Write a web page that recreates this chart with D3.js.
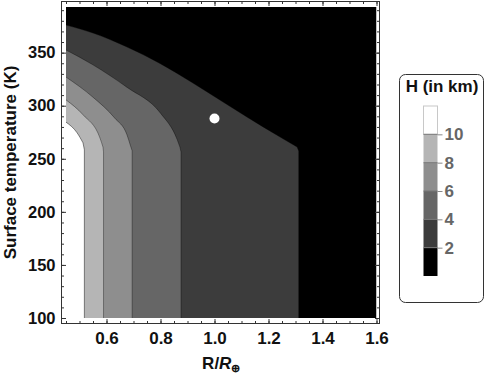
<!DOCTYPE html>
<html>
<head>
<meta charset="utf-8">
<script src="https://cdn.jsdelivr.net/npm/d3@7"></script>
<style>
  body { margin: 0; background: #fff; }
  svg { display: block; font-family: "Liberation Sans", Arial, sans-serif; font-weight: bold; }
</style>
</head>
<body>
<svg id="chart" width="485" height="378"></svg>
<script>
// contour levels (H in km) and the fill for each band
const levels = [2, 4, 6, 8, 10]
const shades = ["#000000", "#3c3c3c", "#666666", "#8e8e8e", "#b5b5b5", "#ffffff"]

// contour lines: R/R_earth and surface temperature (K)
// last two points: the short kink, then the foot of the vertical part at 100 K
const c2R = [0.45, 0.55, 0.676, 0.798, 0.92, 1.02, 1.12, 1.243, 1.306, 1.312, 1.312]
const c2T = [376, 368.5, 355.3, 339.8, 321.4, 305.4, 289.4, 270.5, 261.1, 257.3, 100]
const c4R = [0.45, 0.55, 0.675, 0.8, 0.862, 0.872, 0.876, 0.876]
const c4T = [352.5, 338.5, 317.5, 293, 268, 261, 256.5, 100]
const c6R = [0.45, 0.55, 0.63, 0.676, 0.688, 0.695, 0.695]
const c6T = [327, 308, 288.5, 272.5, 263, 257.5, 100]
const c8R = [0.45, 0.513, 0.576, 0.587, 0.589, 0.589]
const c8T = [305.5, 291.5, 269.5, 261, 256.5, 100]
const c10R = [0.45, 0.491, 0.513, 0.518, 0.518]
const c10T = [284.5, 274.5, 265, 258.5, 100]

// Earth marker
const earthR = [1.0]
const earthT = [288]

const xTicks = [0.6, 0.8, 1.0, 1.2, 1.4, 1.6]
const yTicks = [100, 150, 200, 250, 300, 350]

const svg = d3.select("#chart")

const x = d3.scaleLinear().domain([0.45, 1.6]).range([66, 376.5])
const y = d3.scaleLinear().domain([100, 393]).range([318, 7])

// frame box (a bit of padding round the data area)
const frame = {left: 61.5, right: 379.5, top: 1.5, bottom: 323.5}

svg.append("clipPath").attr("id", "plotclip")
    .append("rect")
    .attr("x", x(0.45)).attr("y", y(393))
    .attr("width", x(1.6) - x(0.45)).attr("height", y(100) - y(393))

const plot = svg.append("g").attr("clip-path", "url(#plotclip)")

plot.append("rect")
    .attr("x", x(0.45)).attr("y", y(393))
    .attr("width", x(1.6) - x(0.45)).attr("height", y(100) - y(393))
    .attr("fill", shades[0])

const contours = [[c2R, c2T], [c4R, c4T], [c6R, c6T], [c8R, c8T], [c10R, c10T]]
const line = d3.line().curve(d3.curveMonotoneX)

contours.forEach(([rs, ts], i) => {
    let pts = rs.map((r, j) => [x(r), y(ts[j])])
    let n = pts.length
    // smooth upper part, then straight kink and drop to the bottom
    let edge = line(pts.slice(0, n - 2))
    pts.slice(n - 2).forEach(p => { edge += "L" + p[0] + "," + p[1] })
    plot.append("path")
        .attr("d", edge + "L" + x(0.45) + "," + y(100) + "Z")
        .attr("fill", shades[i + 1])
    plot.append("path")
        .attr("d", edge)
        .attr("fill", "none")
        .attr("stroke", "#000")
        .attr("stroke-opacity", i == 4 ? 0.45 : 0.35)
        .attr("stroke-width", 1)
})

plot.selectAll("circle.earth")
    .data(earthR)
    .enter().append("circle")
    .attr("class", "earth")
    .attr("cx", d => x(d))
    .attr("cy", (d, i) => y(earthT[i]))
    .attr("r", 5)
    .attr("fill", "#fff")

// frame
svg.append("rect")
    .attr("x", frame.left).attr("y", frame.top)
    .attr("width", frame.right - frame.left).attr("height", frame.bottom - frame.top)
    .attr("fill", "none").attr("stroke", "#333").attr("stroke-width", 1)

const xMinor = d3.range(9, 33).map(i => +(i * 0.05).toFixed(2))
const yMinor = d3.range(10, 40).map(i => i * 10)

function frameAxis(axis, tx, ty) {
    let g = svg.append("g").attr("transform", "translate(" + tx + "," + ty + ")").call(axis)
    g.select(".domain").remove()
    g.selectAll("line").attr("stroke", "#333")
    return g
}

// minor ticks on all four sides
frameAxis(d3.axisLeft(y).tickValues(yMinor).tickSize(-2.5).tickFormat(""), frame.left, 0)
frameAxis(d3.axisRight(y).tickValues(yMinor).tickSize(-2.5).tickFormat(""), frame.right, 0)
frameAxis(d3.axisBottom(x).tickValues(xMinor).tickSize(-2.5).tickFormat(""), 0, frame.bottom)
frameAxis(d3.axisTop(x).tickValues(xMinor).tickSize(-2.5).tickFormat(""), 0, frame.top)

// major ticks
let yl = frameAxis(d3.axisLeft(y).tickValues(yTicks).tickSize(-4.5).tickPadding(6), frame.left, 0)
frameAxis(d3.axisRight(y).tickValues(yTicks).tickSize(-4.5).tickFormat(""), frame.right, 0)
let xl = frameAxis(d3.axisBottom(x).tickValues(xTicks).tickSize(-4.5).tickPadding(8.5).tickFormat(d3.format(".1f")), 0, frame.bottom)
frameAxis(d3.axisTop(x).tickValues(xTicks).tickSize(-4.5).tickFormat(""), 0, frame.top)

yl.selectAll("text").attr("font-size", 16.5).attr("font-family", null).attr("fill", "#111")
xl.selectAll("text").attr("font-size", 17).attr("font-family", null).attr("fill", "#111")

// axis titles
svg.append("text")
    .attr("transform", "translate(16," + (y(100) + y(393)) / 2 + ") rotate(-90)")
    .attr("text-anchor", "middle")
    .attr("font-size", 17)
    .attr("fill", "#111")
    .text("Surface temperature (K)")

let xt = svg.append("text")
    .attr("x", (x(0.45) + x(1.6)) / 2)
    .attr("y", 369)
    .attr("text-anchor", "middle")
    .attr("font-size", 17)
    .attr("fill", "#111")
xt.append("tspan").text("R/")
xt.append("tspan").attr("font-style", "italic").text("R")
xt.append("tspan").attr("font-size", 11).attr("dy", 3).text("⊕")

// legend
const legend = svg.append("g")
legend.append("rect")
    .attr("x", 399.5).attr("y", 74.5)
    .attr("width", 84).attr("height", 228)
    .attr("rx", 6)
    .attr("fill", "#fff").attr("stroke", "#333").attr("stroke-width", 1)

legend.append("text")
    .attr("x", 442).attr("y", 92)
    .attr("text-anchor", "middle")
    .attr("font-size", 17)
    .attr("fill", "#111")
    .text("H (in km)")

const ly = d3.scaleLinear().domain([0, 12]).range([276, 106])
const bands = [0].concat(levels).concat([12])

legend.selectAll("rect.band")
    .data(shades)
    .enter().append("rect")
    .attr("class", "band")
    .attr("x", 423.5)
    .attr("width", 14)
    .attr("y", (d, i) => ly(bands[i + 1]))
    .attr("height", (d, i) => ly(bands[i]) - ly(bands[i + 1]))
    .attr("fill", d => d)
    .attr("stroke", (d, i) => i == 5 ? "#c8c8c8" : "none")

legend.selectAll("line.sep")
    .data(levels)
    .enter().append("line")
    .attr("class", "sep")
    .attr("x1", 423.5).attr("x2", 437.5)
    .attr("y1", d => ly(d)).attr("y2", d => ly(d))
    .attr("stroke", "#777").attr("stroke-width", 1)

let la = legend.append("g")
    .attr("transform", "translate(437.5,0)")
    .call(d3.axisRight(ly).tickValues(levels).tickSize(5).tickPadding(2))
la.select(".domain").remove()
la.selectAll("line").attr("stroke", "#888")
la.selectAll("text").attr("font-size", 17).attr("font-family", null).attr("fill", "#666")
</script>
</body>
</html>
